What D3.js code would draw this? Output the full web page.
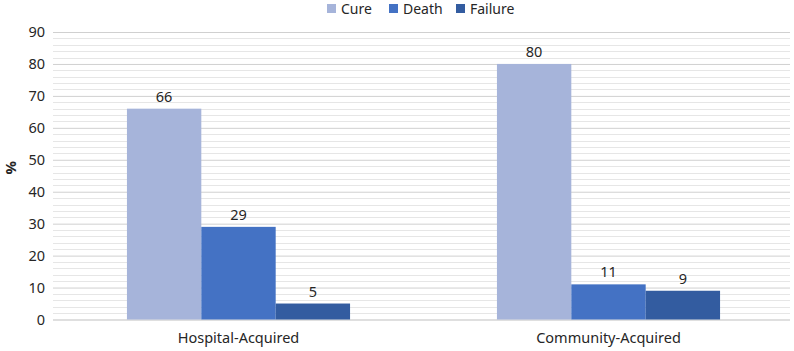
<!DOCTYPE html>
<html>
<head>
<meta charset="utf-8">
<script src="https://cdn.jsdelivr.net/npm/d3@7"></script>
<style>
  body { margin: 0; background: #fff; }
  text { font-family: "Noto Sans", "Liberation Sans", sans-serif; fill: #262626; }
</style>
</head>
<body>
<div id="chart-area"></div>
<script>
/* Data */
var categories = ["Hospital-Acquired", "Community-Acquired"];
var seriesNames = ["Cure", "Death", "Failure"];
var cure = [66, 80];
var death = [29, 11];
var failure = [5, 9];
var yTicks = [0, 10, 20, 30, 40, 50, 60, 70, 80, 90];

var colors = ["#a6b4da", "#4472c4", "#335ca0"];

/* Setting margins, width and height */
var W = 794, H = 351;
var margin = { left:53, right:4, top:32, bottom:31.5 };
var width = W - margin.left - margin.right;
var height = H - margin.top - margin.bottom;

var svg = d3.select("#chart-area").append("svg")
  .attr("width", W)
  .attr("height", H);

var g = svg.append("g")
  .attr("transform", "translate(" + margin.left + ", " + margin.top + ")");

/* Scales */
var x = d3.scaleBand()
  .domain(categories)
  .range([0.5, 740.5])
  .paddingInner(0.397)
  .paddingOuter(0.1985);

var xs = d3.scaleBand()
  .domain(seriesNames)
  .range([0, x.bandwidth()]);

var y = d3.scaleLinear()
  .domain([0, 90])
  .range([height, 0]);

/* Minor gridlines every 2 */
var minor = d3.range(0, 91, 2).filter(function(d){ return d % 10 !== 0; });
g.selectAll(".minor")
  .data(minor)
  .enter().append("line")
    .attr("class", "minor")
    .attr("x1", 0).attr("x2", width)
    .attr("y1", function(d){ return Math.round(y(d)) + 0.5; })
    .attr("y2", function(d){ return Math.round(y(d)) + 0.5; })
    .attr("stroke", "#e6e6e6");

/* Major gridlines + y labels */
var yAxisCall = d3.axisLeft(y)
  .tickValues(yTicks)
  .tickSize(-width)
  .tickPadding(8);

var yAxis = g.append("g")
  .attr("class", "y-axis")
  .call(yAxisCall);
yAxis.select(".domain").remove();
yAxis.selectAll(".tick line")
  .attr("stroke", function(d){ return d === 0 ? "#bfbfbf" : "#d0d0d0"; });
yAxis.selectAll(".tick text")
  .attr("font-size", "14.5px")
  .attr("fill", "#262626")
  .attr("x", -8);

/* Y Label */
g.append("text")
  .attr("x", -(height / 2) + 8)
  .attr("y", -37)
  .attr("font-size", "15px")
  .attr("font-weight", "bold")
  .attr("text-anchor", "middle")
  .attr("transform", "rotate(-90)")
  .text("%");

/* X axis labels */
var xAxisCall = d3.axisBottom(x).tickSize(0).tickPadding(13);
var xAxis = g.append("g")
  .attr("class", "x axis")
  .attr("transform", "translate(0, " + height + ")")
  .call(xAxisCall);
xAxis.select(".domain").remove();
xAxis.selectAll("text")
  .attr("font-size", "14.5px")
  .attr("fill", "#262626");

/* Bars */
var seriesData = [cure, death, failure];
var rows = [];
seriesNames.forEach(function(s, si){
  categories.forEach(function(c, ci){
    rows.push({ series: s, cat: c, value: seriesData[si][ci], color: colors[si] });
  });
});

g.selectAll("rect.bar")
  .data(rows)
  .enter().append("rect")
    .attr("class", "bar")
    .attr("x", function(d){ return x(d.cat) + xs(d.series); })
    .attr("y", function(d){ return y(d.value); })
    .attr("width", xs.bandwidth())
    .attr("height", function(d){ return height - y(d.value); })
    .attr("fill", function(d){ return d.color; });

g.selectAll("text.val")
  .data(rows)
  .enter().append("text")
    .attr("class", "val")
    .attr("x", function(d){ return x(d.cat) + xs(d.series) + xs.bandwidth() / 2; })
    .attr("y", function(d){ return y(d.value) - 7; })
    .attr("text-anchor", "middle")
    .attr("font-size", "14.5px")
    .text(function(d){ return d.value; });

/* Legend */
var legendX = [327, 389, 456];
var legend = svg.append("g").attr("class", "legend");
seriesNames.forEach(function(s, i){
  legend.append("rect")
    .attr("x", legendX[i]).attr("y", 4)
    .attr("width", 9).attr("height", 9)
    .attr("fill", colors[i]);
  legend.append("text")
    .attr("x", legendX[i] + 14).attr("y", 14)
    .attr("font-size", "14px")
    .text(s);
});
</script>
</body>
</html>
